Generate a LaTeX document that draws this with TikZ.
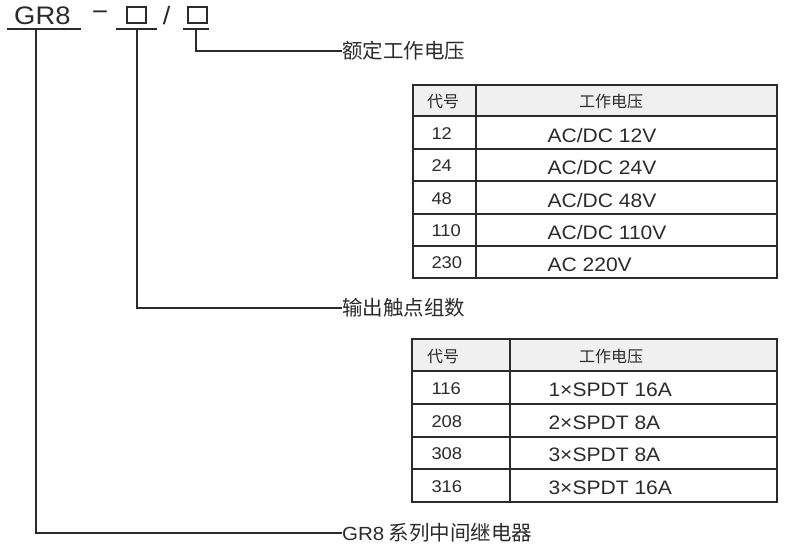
\documentclass[tikz,border=0pt]{standalone}
\usepackage{fontspec}
\setmainfont{Liberation Sans}
\newfontfamily\cjk{Noto Sans CJK SC}
\newfontfamily\widesans[FakeStretch=1.08]{Liberation Sans}
\definecolor{ink}{HTML}{2B2B2B}
\definecolor{hdr}{HTML}{F0F0F0}
\tikzset{
  conn/.style={draw=ink, line width=1.5pt},
  lbl/.style={anchor=west, inner sep=0pt, text=ink, font=\cjk\fontsize{20.5}{24}\selectfont},
  hd/.style={inner sep=0pt, text=ink, font=\cjk\fontsize{16}{19}\selectfont},
  num/.style={anchor=west, inner sep=0pt, text=ink, font=\widesans\fontsize{17}{20}\selectfont},
  val/.style={anchor=west, inner sep=0pt, text=ink, font=\widesans\fontsize{19.5}{23}\selectfont},
  cell/.style={draw=ink, line width=1.4pt, inner sep=0pt},
  hcell/.style={cell, fill=hdr},
  slot/.style={draw=ink, line width=1.1pt, inner sep=0pt, minimum width=19pt, minimum height=16pt},
  codesign/.style={inner sep=0pt, text=ink, font=\widesans\fontsize{20}{24}\selectfont},
}
\begin{document}
\begin{tikzpicture}[x=1pt,y=-1pt]
\useasboundingbox[fill=white] (0,0) rectangle (790,552);

% --- model code ---
\node[anchor=west, inner sep=0pt, text=ink] (gr) at (14,15.5) {\scalebox{1.3}{\widesans\fontsize{19.5}{23}\selectfont GR8}};
\node[codesign] (dash) at (100,16) {\scalebox{1.3}{−}};
\node[slot] (box1) at (136.5,15) {};
\node[codesign] (slash) at (166.5,15.5) {\scalebox{1.25}{/}};
\node[slot] (box2) at (197.5,15) {};

\coordinate (u1a) at (7,29);   \coordinate (u1b) at (81,29);
\coordinate (u2a) at (116,29); \coordinate (u2b) at (157,29);
\coordinate (u3a) at (183,29); \coordinate (u3b) at (209,29);
\draw[conn] (u1a) -- (u1b);
\draw[conn] (u2a) -- (u2b);
\draw[conn] (u3a) -- (u3b);
\coordinate (v1) at (36,29);
\coordinate (v2) at (137,29);
\coordinate (v3) at (196,29);

% --- labels ---
\node[lbl] (lab1) at (342,51) {额定工作电压};
\node[lbl] (lab2) at (342,308) {输出触点组数};
\node[lbl] (lab3) at (342,533) {{\widesans\fontsize{19}{24}\selectfont GR8} 系列中间继电器};

\draw[conn] (v3) |- (lab1.west);
\draw[conn] (v2) |- (lab2.west);
\draw[conn] (v1) |- (lab3.west);

% --- table 1 ---
\node[hcell, minimum width=63pt, minimum height=31pt] (t1h1) at (444.5,100.5) {};
\node[hcell, minimum width=301pt, minimum height=31pt] (t1h2) at (626.5,100.5) {};
\node[hd] (t1h1t) at (443,101.5) {代号};
\node[hd] (t1h2t) at (611,101.5) {工作电压};
\foreach \i/\yc/\h/\c/\v in {1/132.5/33/12/{AC/DC 12V}, 2/165/32/24/{AC/DC 24V}, 3/197.5/33/48/{AC/DC 48V}, 4/230/32/110/{AC/DC 110V}, 5/262/32/230/{AC 220V}}{
  \node[cell, minimum width=63pt, minimum height=\h pt] (t1a\i) at (444.5,\yc) {};
  \node[cell, minimum width=301pt, minimum height=\h pt] (t1b\i) at (626.5,\yc) {};
  \node[num] (t1n\i) at ([xshift=19pt,yshift=-1pt]t1a\i.west) {\c};
  \node[val] (t1v\i) at ([xshift=72pt,yshift=-3pt]t1b\i.west) {\v};
}

% --- table 2 ---
\node[hcell, minimum width=98pt, minimum height=32pt] (t2h1) at (461,355) {};
\node[hcell, minimum width=267pt, minimum height=32pt] (t2h2) at (643.5,355) {};
\node[hd] (t2h1t) at (443,356.5) {代号};
\node[hd] (t2h2t) at (611,356.5) {工作电压};
\foreach \i/\yc/\h/\c/\v in {1/387.5/33/116/{1×SPDT 16A}, 2/420.5/33/208/{2×SPDT 8A}, 3/453/32/308/{3×SPDT 8A}, 4/485.5/33/316/{3×SPDT 16A}}{
  \node[cell, minimum width=98pt, minimum height=\h pt] (t2a\i) at (461,\yc) {};
  \node[cell, minimum width=267pt, minimum height=\h pt] (t2b\i) at (643.5,\yc) {};
  \node[num] (t2n\i) at ([xshift=20pt,yshift=-1pt]t2a\i.west) {\c};
  \node[val] (t2v\i) at ([xshift=39pt,yshift=-2pt]t2b\i.west) {\v};
}
\end{tikzpicture}
\end{document}
